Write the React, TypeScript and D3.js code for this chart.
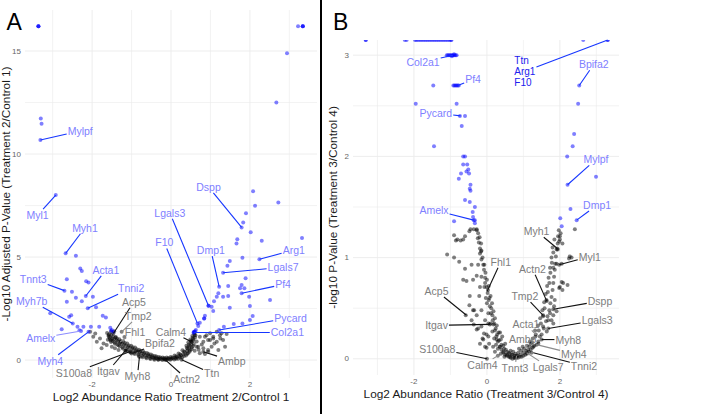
import * as d3 from "d3";

type Pt = [number, number];
type Label = { gene: string; x: number; y: number; sig: boolean };
type Place = { lx: number; ly: number; faint?: boolean; strong?: boolean };

const FONT = "'Liberation Sans', Arial, Helvetica, sans-serif";

const xTicks = [-2, 0, 2];
const xMinor = [-3, -1, 1, 3];
const yTicksA = [0, 5, 10, 15];
const yMinorA = [2.5, 7.5, 12.5];
const yTicksB = [0, 1, 2, 3];
const yMinorB = [0.5, 1.5, 2.5];

// ---------- panel A : Treatment 2 / Control 1 ----------
const sigA: Pt[] = [
  [-3.36, 16.2], [-3.36, 16.2], [-3.36, 16.2], [3.34, 16.2], [3.34, 16.2], [3.34, 16.2], [3.22, 16.2],
  [2.94, 14.89], [2.67, 12.5], [-3.3, 11.73], [-3.28, 11.47], [-3.31, 10.68], [-2.92, 8.01],
  [2.08, 8.19], [2.72, 7.65], [2.13, 7.49], [1.9, 7.12], [1.83, 6.68], [1.79, 6.44], [2.02, 6.2],
  [1.68, 5.86], [1.66, 5.66], [2.3, 5.79], [3.32, 5.92], [2.24, 4.89], [1.81, 4.97], [1.49, 4.81],
  [1.43, 4.58], [1.32, 4.24], [1.89, 3.97], [1.22, 3.56], [1.45, 3.59], [1.79, 3.64], [1.75, 3.48],
  [1.86, 3.48], [1.79, 3.24], [1.98, 3.07], [2.51, 2.91], [1.2, 3.24], [1.16, 3.07], [1.45, 3.11],
  [1.32, 3.07], [1.09, 2.86], [0.95, 2.64], [0.95, 2.64], [1.03, 2.59], [1.07, 2.38], [1.49, 2.54],
  [2.0, 2.62], [2.07, 2.14], [2.0, 1.94], [1.81, 1.78], [1.59, 1.75], [1.34, 1.62], [1.22, 1.46],
  [0.86, 2.15], [0.84, 2.02], [0.84, 2.02], [0.73, 1.81], [0.67, 1.78], [0.69, 1.65], [0.63, 1.46],
  [0.59, 1.37], [0.57, 1.33], [0.61, 1.4], [0.58, 1.36],
  [-2.67, 5.18], [-2.41, 5.06], [-2.3, 4.45], [-2.26, 4.32], [-2.15, 3.83], [-2.09, 3.77],
  [-2.64, 3.92], [-2.7, 3.37], [-2.51, 3.32], [-2.16, 3.11], [-1.98, 3.07], [-2.41, 3.03],
  [-2.64, 2.83], [-2.26, 2.86], [-2.11, 2.51], [-1.9, 2.56], [-3.06, 2.27], [-2.53, 2.18],
  [-2.58, 2.1], [-1.73, 2.15], [-1.65, 2.07], [-2.49, 1.78], [-2.37, 1.62], [-2.22, 1.62],
  [-2.03, 1.62], [-1.82, 1.62], [-2.77, 1.49], [-2.28, 1.41], [-2.32, 1.45], [-2.09, 1.37],
  [-1.54, 1.57], [-1.5, 1.46], [-1.46, 1.37], [-1.52, 1.42],
];

const nsA: Pt[] = [
  [-2.05, 1.37], [-1.92, 1.29], [-1.97, 1.13], [-1.8, 1.05], [-1.88, 0.89], [-1.71, 0.81],
  [-1.63, 0.73], [-1.5, 0.65], [-1.76, 0.57], [-1.42, 0.57], [-1.33, 0.49], [-1.58, 1.21],
  [-1.46, 1.29], [-1.25, 1.37], [-1.29, 0.88], [-1.55, 1.02], [-1.4, 1.12], [-1.48, 0.92],
  [-1.36, 0.76], [-1.18, 1.12], [-1.15, 0.45], [-1.05, 0.4], [-1.0, 0.32], [-1.16, 0.45],
  [-0.8, 0.15], [-1.52, 1.38], [-1.44, 1.4],
  [-1.62, 1.31], [-1.58, 1.14], [-1.6, 0.99], [-1.51, 1.22], [-1.49, 1.04], [-1.52, 0.88],
  [-1.41, 1.1], [-1.38, 0.96], [-1.42, 0.79], [-1.31, 1.01], [-1.28, 0.84], [-1.3, 0.67],
  [-1.21, 0.9], [-1.19, 0.74], [-1.22, 0.56], [-1.11, 0.81], [-1.09, 0.63], [-1.12, 0.46],
  [-1.01, 0.7], [-0.98, 0.55], [-1.02, 0.37], [-0.91, 0.61], [-0.89, 0.45], [-0.92, 0.29],
  [-0.81, 0.5], [-0.79, 0.37], [-0.82, 0.21], [-0.71, 0.43], [-0.69, 0.3], [-0.72, 0.14],
  [-0.61, 0.34], [-0.58, 0.22], [-0.62, 0.09], [-0.51, 0.27], [-0.49, 0.15], [-0.52, 0.05],
  [-0.41, 0.2], [-0.39, 0.1], [-0.42, 0.02], [-0.31, 0.15], [-0.29, 0.07], [-0.32, 0.01],
  [-0.21, 0.12], [-0.19, 0.05], [-0.22, 0.0], [-0.11, 0.12], [-0.09, 0.05], [-0.12, 0.0],
  [-0.01, 0.15], [0.01, 0.07], [-0.02, 0.01], [0.09, 0.22], [0.11, 0.11], [0.08, 0.03],
  [0.19, 0.32], [0.21, 0.18], [0.18, 0.06], [0.29, 0.48], [0.31, 0.28], [0.28, 0.12],
  [0.39, 0.7], [0.41, 0.45], [0.38, 0.22], [0.44, 0.86], [0.46, 0.6], [0.43, 0.33],
  [0.49, 1.0], [0.51, 0.76], [0.48, 0.46], [0.54, 1.17], [0.56, 0.95], [0.53, 0.61],
  [0.59, 1.29], [0.61, 1.1], [0.58, 0.78],
  [-1.55, 1.1], [-1.45, 1.0], [-1.35, 0.9], [-1.25, 0.78], [-1.15, 0.68], [-1.05, 0.58],
  [-0.95, 0.48], [-0.85, 0.4], [-0.75, 0.32], [-0.65, 0.24], [-0.55, 0.18], [-0.45, 0.12],
  [-0.35, 0.08], [-0.25, 0.05], [-0.15, 0.04], [-0.05, 0.05], [0.05, 0.09], [0.15, 0.15],
  [0.25, 0.24], [0.35, 0.38], [0.42, 0.55], [0.47, 0.7], [0.52, 0.88], [0.57, 1.02], [0.62, 1.2],
  [-1.57, 1.25], [-1.47, 1.15], [-1.37, 1.05], [-1.27, 0.93], [-1.17, 0.83], [-1.07, 0.71],
  [-0.97, 0.62], [-0.87, 0.52], [-0.77, 0.44], [-0.67, 0.36], [-0.57, 0.29], [-0.47, 0.22],
  [-0.37, 0.17], [-0.27, 0.13], [-0.17, 0.1], [-0.07, 0.1], [0.03, 0.13], [0.13, 0.19],
  [0.23, 0.28], [0.33, 0.42], [0.4, 0.6], [0.45, 0.75], [0.5, 0.92], [0.55, 1.08], [0.6, 1.22],
  [-1.53, 0.95], [-1.43, 0.85], [-1.33, 0.72], [-1.23, 0.62], [-1.13, 0.52], [-1.03, 0.43],
  [-0.93, 0.35], [-0.83, 0.27], [-0.73, 0.2], [-0.63, 0.14], [-0.53, 0.09], [-0.43, 0.06],
  [-0.33, 0.03], [0.13, 0.07], [0.23, 0.12], [0.33, 0.2], [0.41, 0.3], [0.47, 0.4], [0.52, 0.52],
  [0.56, 0.68],
  [0.73, 1.13], [0.9, 1.21], [1.07, 1.13], [1.24, 1.21], [1.41, 1.26], [0.82, 0.89], [0.99, 0.97],
  [1.16, 0.89], [1.32, 0.97], [0.65, 0.65], [0.82, 0.57], [1.03, 0.65], [1.2, 0.49], [1.37, 0.65],
  [0.73, 0.33], [0.94, 0.4], [0.86, 1.13], [0.99, 1.3], [1.16, 1.37], [1.28, 1.3], [0.94, 0.97],
  [1.07, 1.05], [0.69, 0.65], [0.94, 0.49], [0.86, 0.29], [0.52, 0.89], [0.27, 0.02], [-0.15, 0.02],
  [0.82, 0.4], [0.6, 0.45], [0.65, 0.9], [0.7, 0.5], [1.1, 0.8], [1.25, 1.05], [0.78, 0.75],
];

const labelsA: Label[] = [
  { gene: "Mylpf", x: -3.31, y: 10.68, sig: true },
  { gene: "Myl1", x: -2.92, y: 8.01, sig: true },
  { gene: "Myh1", x: -2.67, y: 5.18, sig: true },
  { gene: "Acta1", x: -2.16, y: 3.11, sig: true },
  { gene: "Tnnt3", x: -2.7, y: 3.37, sig: true },
  { gene: "Tnni2", x: -2.11, y: 2.51, sig: true },
  { gene: "Myh7b", x: -2.49, y: 1.78, sig: true },
  { gene: "Amelx", x: -2.28, y: 1.41, sig: true },
  { gene: "Myh4", x: -2.09, y: 1.37, sig: true },
  { gene: "Dspp", x: 1.79, y: 6.44, sig: true },
  { gene: "Lgals3", x: 0.95, y: 2.64, sig: true },
  { gene: "F10", x: 0.67, y: 1.78, sig: true },
  { gene: "Dmp1", x: 1.22, y: 3.56, sig: true },
  { gene: "Arg1", x: 2.24, y: 4.89, sig: true },
  { gene: "Lgals7", x: 1.32, y: 4.24, sig: true },
  { gene: "Pf4", x: 1.79, y: 3.24, sig: true },
  { gene: "Pycard", x: 1.22, y: 1.46, sig: true },
  { gene: "Col2a1", x: 0.58, y: 1.34, sig: true },
  { gene: "Acp5", x: -1.46, y: 1.29, sig: false },
  { gene: "Tmp2", x: -1.25, y: 1.37, sig: false },
  { gene: "Fhl1", x: -1.29, y: 0.88, sig: false },
  { gene: "Calm4", x: 0.52, y: 0.89, sig: false },
  { gene: "Bpifa2", x: -1.0, y: 0.32, sig: false },
  { gene: "S100a8", x: -1.05, y: 0.4, sig: false },
  { gene: "Itgav", x: -1.16, y: 0.45, sig: false },
  { gene: "Myh8", x: -0.8, y: 0.15, sig: false },
  { gene: "Actn2", x: -0.15, y: 0.02, sig: false },
  { gene: "Ttn", x: 0.27, y: 0.02, sig: false },
  { gene: "Ambp", x: 0.82, y: 0.4, sig: false },
];

// label placement (data units of panel A)
const placeA: Record<string, Place> = {
  Mylpf: { lx: -2.3, ly: 11.12 }, Myl1: { lx: -3.38, ly: 7.04 }, Myh1: { lx: -2.18, ly: 6.42 },
  Acta1: { lx: -1.65, ly: 4.38 }, Tnnt3: { lx: -3.49, ly: 3.92 }, Tnni2: { lx: -1.01, ly: 3.48 },
  Myh7b: { lx: -3.53, ly: 2.86 }, Amelx: { lx: -3.3, ly: 1.08, faint: true }, Myh4: { lx: -3.06, ly: -0.03 },
  Dspp: { lx: 0.95, ly: 8.41 }, Lgals3: { lx: -0.03, ly: 7.15 }, F10: { lx: -0.17, ly: 5.71 },
  Dmp1: { lx: 1.01, ly: 5.34 }, Arg1: { lx: 3.11, ly: 5.34 }, Lgals7: { lx: 2.84, ly: 4.5 },
  Pf4: { lx: 2.84, ly: 3.67 }, Pycard: { lx: 3.03, ly: 2.05 }, Col2a1: { lx: 2.95, ly: 1.34 },
  Acp5: { lx: -0.94, ly: 2.83 }, Tmp2: { lx: -0.83, ly: 2.15, faint: true }, Fhl1: { lx: -0.91, ly: 1.37, faint: true },
  Calm4: { lx: 0.0, ly: 1.37 }, Bpifa2: { lx: -0.28, ly: 0.81 }, S100a8: { lx: -2.46, ly: -0.62 },
  Itgav: { lx: -1.59, ly: -0.53 }, Myh8: { lx: -0.85, ly: -0.78 }, Actn2: { lx: 0.4, ly: -0.92 },
  Ttn: { lx: 1.03, ly: -0.65 }, Ambp: { lx: 1.54, ly: -0.03 },
};

// ---------- panel B : Treatment 3 / Control 4 ----------
const sigB: Pt[] = [
  [-3.32, 3.15], [-3.32, 3.15], [-2.25, 3.15], [-2.2, 3.15], [-1.97, 3.15], [-1.93, 3.15], [-1.88, 3.15],
  [-1.83, 3.15], [-1.78, 3.15], [-1.73, 3.15], [-1.68, 3.15], [-1.63, 3.15], [-1.58, 3.15], [-1.53, 3.15],
  [-1.48, 3.15], [-1.43, 3.15], [-1.38, 3.15], [-1.33, 3.15], [-1.28, 3.15], [-1.23, 3.15], [-1.18, 3.15],
  [-1.13, 3.15], [-1.08, 3.15], [-1.03, 3.15], [-0.99, 3.15], [-0.97, 3.15], [2.64, 3.15], [3.31, 3.15], [3.31, 3.15],
  [-1.1, 3.0], [-1.07, 3.0], [-1.04, 3.0], [-1.01, 3.0], [-0.98, 3.0], [-0.95, 3.0], [-0.92, 3.0],
  [-0.89, 3.0], [-0.86, 3.0], [-0.83, 3.0], [-0.9, 3.01], [-0.96, 2.99],
  [-0.92, 2.7], [-0.89, 2.7], [-0.86, 2.7], [-0.83, 2.7], [-0.8, 2.7], [-0.77, 2.7], [-1.47, 2.7],
  [-1.95, 2.52], [-0.83, 2.52], [-0.74, 2.4], [-0.6, 2.4], [-0.69, 2.3], [-1.45, 2.1],
  [-0.65, 2.0], [-0.6, 2.0], [-0.65, 1.92], [-0.54, 1.92], [-0.51, 1.87], [-0.56, 1.85], [-0.49, 1.83],
  [-0.71, 1.83], [-0.77, 1.78], [-0.45, 1.72], [-0.6, 1.57], [-0.47, 1.55], [-0.33, 1.5], [-0.39, 1.45],
  [-0.9, 1.36], [-0.33, 1.37], [-0.38, 1.4], [-0.33, 1.34], [-0.36, 1.37], [-0.47, 1.68], [-0.45, 1.66],
  [2.53, 2.7], [2.5, 2.52], [2.39, 2.22], [2.35, 2.1], [2.2, 2.0], [2.99, 1.8], [2.21, 1.72],
  [2.29, 1.48], [2.01, 1.39], [2.46, 1.37], [2.05, 1.31],
];

const nsB: Pt[] = [
  [-0.9, 1.22], [-0.85, 1.17], [-0.65, 1.18], [-0.45, 1.28], [-0.36, 1.28], [-0.28, 1.28], [-0.24, 1.24],
  [-0.16, 1.14], [-0.15, 1.07], [-0.19, 1.04], [-1.09, 1.03], [-0.9, 1.0], [-0.76, 0.96], [-0.6, 0.89],
  [-0.42, 0.93], [-0.24, 0.93], [-0.07, 0.93], [-0.65, 0.78], [-0.56, 0.77], [-0.38, 0.78], [-0.28, 0.82],
  [-0.15, 0.81], [-0.05, 0.75], [-0.19, 0.71], [-0.07, 0.71], [-0.21, 0.62], [-0.47, 0.62], [-0.03, 0.6],
  [-0.38, 0.48], [-0.28, 0.43], [-0.15, 0.48], [-0.05, 0.38], [-0.36, 0.34], [-0.15, 0.32], [0.04, 0.35],
  [-0.28, 0.29], [-0.08, 0.25], [0.04, 0.22], [-0.12, 0.2], [-0.19, 0.15], [-0.05, 0.12],
  [-0.48, 1.26], [-0.6, 1.21], [-0.81, 1.18], [-0.72, 1.17], [-0.48, 0.53], [-0.35, 0.48], [-0.58, 0.43],
  [-0.42, 0.38], [-0.24, 0.3], [-0.01, 0.24], [-0.1, 0.19], [0.06, 0.15], [0.17, 0.12], [-0.01, 0.11],
  [0.22, 0.07], [0.0, 0.0], [0.08, 0.34],
  [-0.28, 1.27], [-0.25, 1.19], [-0.22, 1.15], [-0.19, 1.09], [-0.16, 1.06], [-0.15, 0.98], [-0.1, 0.93],
  [-0.08, 0.88], [-0.05, 0.8], [-0.01, 0.71], [0.02, 0.65], [0.05, 0.58], [0.08, 0.52], [0.11, 0.45],
  [0.16, 0.38], [0.18, 0.34], [0.22, 0.28], [0.26, 0.22], [0.3, 0.17], [0.35, 0.12], [0.4, 0.09],
  [0.45, 0.06], [0.5, 0.04], [0.55, 0.03], [0.6, 0.02], [0.65, 0.01], [0.7, 0.0], [0.75, 0.01],
  [0.8, 0.01], [0.85, 0.01], [0.9, 0.02], [0.95, 0.02], [1.0, 0.03], [1.05, 0.04], [1.1, 0.05],
  [1.15, 0.07], [1.2, 0.09], [1.25, 0.11], [1.3, 0.13],
  [0.05, 0.72], [0.1, 0.62], [0.14, 0.55], [0.18, 0.47], [0.22, 0.4], [0.27, 0.33], [0.32, 0.26],
  [0.38, 0.19], [0.45, 0.13], [0.52, 0.09], [0.6, 0.06], [0.68, 0.04], [0.76, 0.03], [0.84, 0.03],
  [0.92, 0.04], [1.0, 0.06], [1.08, 0.08], [1.16, 0.12], [1.24, 0.16],
  [0.0, 0.55], [0.04, 0.45], [0.1, 0.35], [0.15, 0.27], [0.2, 0.2], [0.25, 0.14], [0.3, 0.1],
  [0.38, 0.05], [0.48, 0.02], [0.3, 0.03], [0.81, 0.03], [1.09, 0.06],
  [0.27, 0.19], [0.36, 0.12], [0.45, 0.07], [0.54, 0.04], [0.63, 0.02], [0.77, 0.01], [1.22, 0.06],
  [-0.2, 1.2], [-0.12, 1.0], [-0.04, 0.85], [0.0, 0.78], [0.03, 0.68], [0.07, 0.6], [0.12, 0.5],
  [0.15, 0.43], [0.2, 0.35], [0.24, 0.3], [0.28, 0.24], [0.33, 0.18], [0.4, 0.14], [0.47, 0.1],
  [0.55, 0.07], [0.62, 0.05], [0.7, 0.04], [0.78, 0.05], [0.86, 0.06], [0.94, 0.08], [1.02, 0.1],
  [1.1, 0.13], [1.18, 0.17], [1.26, 0.2], [1.32, 0.28], [1.4, 0.33], [1.46, 0.4], [1.52, 0.48],
  [1.57, 0.56], [1.61, 0.64], [1.65, 0.72], [1.69, 0.8], [1.73, 0.9], [1.77, 1.0], [1.8, 1.1],
  [1.85, 1.18], [0.65, 0.08], [0.72, 0.07], [0.88, 0.1], [0.98, 0.12], [0.5, 0.15], [0.42, 0.22],
  [0.36, 0.26],
  [1.27, 0.12], [1.41, 0.17], [1.5, 0.24], [1.56, 0.3], [1.62, 0.37], [1.66, 0.42], [1.71, 0.48],
  [1.74, 0.55], [1.77, 0.61], [1.8, 0.68], [1.82, 0.75], [1.84, 0.81], [1.86, 0.88], [1.87, 0.94],
  [1.89, 1.01], [1.91, 1.08], [1.94, 1.14], [1.95, 1.21], [1.97, 1.27],
  [1.2, 0.15], [1.33, 0.22], [1.42, 0.28], [1.48, 0.35], [1.54, 0.42], [1.58, 0.5], [1.63, 0.58],
  [1.67, 0.66], [1.71, 0.75], [1.74, 0.85], [1.78, 0.95], [1.82, 1.05],
  [1.36, 0.14], [1.5, 0.19], [1.68, 0.3], [1.82, 0.49], [1.98, 0.93], [1.93, 1.09], [1.64, 0.57],
  [1.54, 0.43], [1.34, 0.24], [1.13, 0.09],
  [2.02, 1.24], [2.0, 1.18], [1.98, 1.16], [1.94, 1.08], [2.27, 1.01], [2.32, 1.0], [2.25, 0.99],
  [1.91, 0.94], [1.82, 0.9], [2.05, 0.76], [1.98, 0.7], [2.07, 0.68], [2.21, 0.73], [1.86, 0.58],
  [1.84, 0.52], [1.91, 0.47], [1.82, 0.43], [1.77, 0.38], [1.73, 0.45], [1.68, 0.38], [1.82, 0.35],
  [1.54, 0.32], [1.64, 0.27], [1.45, 0.22], [1.41, 0.15], [2.0, 0.71], [2.09, 0.75], [2.05, 0.94],
  [2.07, 1.14], [2.0, 1.21], [2.41, 1.28],
];

const labelsB: Label[] = [
  { gene: "Col2a1", x: -0.93, y: 3.0, sig: true },
  { gene: "Pf4", x: -0.8, y: 2.7, sig: true },
  { gene: "Pycard", x: -0.72, y: 2.4, sig: true },
  { gene: "Ttn\nArg1\nF10", x: 3.31, y: 3.15, sig: true },
  { gene: "Bpifa2", x: 2.53, y: 2.7, sig: true },
  { gene: "Mylpf", x: 2.21, y: 1.72, sig: true },
  { gene: "Dmp1", x: 2.46, y: 1.37, sig: true },
  { gene: "Amelx", x: -0.36, y: 1.37, sig: true },
  { gene: "Fhl1", x: 0.01, y: 0.67, sig: false },
  { gene: "Acp5", x: -0.56, y: 0.43, sig: false },
  { gene: "Itgav", x: 0.08, y: 0.34, sig: false },
  { gene: "S100a8", x: 0.0, y: 0.0, sig: false },
  { gene: "Calm4", x: 0.3, y: 0.03, sig: false },
  { gene: "Tnnt3", x: 0.81, y: 0.03, sig: false },
  { gene: "Lgals7", x: 1.09, y: 0.06, sig: false },
  { gene: "Tnni2", x: 1.27, y: 0.06, sig: false },
  { gene: "Myh4", x: 1.36, y: 0.14, sig: false },
  { gene: "Myh8", x: 1.5, y: 0.19, sig: false },
  { gene: "Lgals3", x: 1.68, y: 0.3, sig: false },
  { gene: "Dspp", x: 1.82, y: 0.49, sig: false },
  { gene: "Myl1", x: 1.98, y: 0.93, sig: false },
  { gene: "Myh1", x: 1.93, y: 1.09, sig: false },
  { gene: "Actn2", x: 1.64, y: 0.57, sig: false },
  { gene: "Tmp2", x: 1.54, y: 0.43, sig: false },
  { gene: "Acta1", x: 1.34, y: 0.24, sig: false },
  { gene: "Ambp", x: 1.13, y: 0.09, sig: false },
];

const placeB: Record<string, Place> = {
  Col2a1: { lx: -1.75, ly: 2.93 }, Pf4: { lx: -0.38, ly: 2.76 }, Pycard: { lx: -1.4, ly: 2.43 },
  "Ttn\nArg1\nF10": { lx: 1.04, ly: 2.84, strong: true }, Bpifa2: { lx: 2.93, ly: 2.91 },
  Mylpf: { lx: 2.99, ly: 1.97 }, Dmp1: { lx: 3.02, ly: 1.52 }, Amelx: { lx: -1.45, ly: 1.47 },
  Fhl1: { lx: 0.38, ly: 0.96 }, Acp5: { lx: -1.38, ly: 0.67 }, Itgav: { lx: -1.38, ly: 0.33 },
  S100a8: { lx: -1.36, ly: 0.1 }, Calm4: { lx: -0.12, ly: -0.06, faint: true },
  Tnnt3: { lx: 0.77, ly: -0.09, faint: true }, Lgals7: { lx: 1.68, ly: -0.08, faint: true },
  Tnni2: { lx: 2.66, ly: -0.07 }, Myh4: { lx: 2.38, ly: 0.05, faint: true }, Myh8: { lx: 2.23, ly: 0.19 },
  Lgals3: { lx: 3.02, ly: 0.38 }, Dspp: { lx: 3.1, ly: 0.57 }, Myl1: { lx: 2.82, ly: 1.01 },
  Myh1: { lx: 1.36, ly: 1.26 }, Actn2: { lx: 1.25, ly: 0.89 }, Tmp2: { lx: 1.04, ly: 0.62 },
  Acta1: { lx: 1.07, ly: 0.34, faint: true }, Ambp: { lx: 0.98, ly: 0.2, faint: true },
};

// ---------- helpers ----------
const ctx = typeof document !== "undefined" ? document.createElement("canvas").getContext("2d") : null;
function textWidth(s: string, size: number) {
  if (!ctx) return s.length * size * 0.55;
  ctx.font = `${size}px ${FONT}`;
  return ctx.measureText(s).width;
}

// where the segment from the point meets the label box (like ggrepel)
function boxEdge(px: number, py: number, cx: number, cy: number, w: number, h: number) {
  const dx = px - cx, dy = py - cy;
  if (Math.abs(dx) <= w / 2 && Math.abs(dy) <= h / 2) return null;
  const tx = dx === 0 ? Infinity : (w / 2) / Math.abs(dx);
  const ty = dy === 0 ? Infinity : (h / 2) / Math.abs(dy);
  const t = Math.min(tx, ty);
  return [cx + dx * t, cy + dy * t];
}

type Box = { left: number; right: number; top: number; bottom: number };

function Volcano(props: {
  id: string; tag: string; tagX: number; box: Box; xDom: [number, number]; yDom: [number, number];
  yTicks: number[]; yMinor: number[]; sig: Pt[]; ns: Pt[]; labels: Label[]; place: Record<string, Place>;
  xTitle: string; xTitleY: number; yTitle: string; yTitleX: number;
}) {
  const { id, box, sig, ns, labels, place } = props;
  const x = d3.scaleLinear().domain(props.xDom).range([box.left, box.right]);
  const y = d3.scaleLinear().domain(props.yDom).range([box.bottom, box.top]);
  const LS = 10.5;

  return (
    <g>
      <defs>
        <clipPath id={`clip-${id}`}>
          <rect x={box.left} y={box.top} width={box.right - box.left} height={box.bottom - box.top} />
        </clipPath>
      </defs>
      {xMinor.concat(xTicks).map((t) => (
        <line key={`vx${t}`} x1={x(t)} x2={x(t)} y1={box.top} y2={box.bottom}
          stroke="#ebebeb" strokeWidth={xTicks.includes(t) ? 0.9 : 0.6} />
      ))}
      {props.yMinor.concat(props.yTicks).map((t) => (
        <line key={`hy${t}`} x1={box.left} x2={box.right} y1={y(t)} y2={y(t)}
          stroke="#ebebeb" strokeWidth={props.yTicks.includes(t) ? 0.9 : 0.6} />
      ))}
      <g clipPath={`url(#clip-${id})`}>
        {ns.map((d, i) => (
          <circle key={`n${i}`} cx={x(d[0])} cy={y(d[1])} r={2} fill="#000" fillOpacity={0.5} />
        ))}
        {sig.map((d, i) => (
          <circle key={`s${i}`} cx={x(d[0])} cy={y(d[1])} r={2} fill="#0000ff" fillOpacity={0.5} />
        ))}
      </g>
      {labels.map((l) => {
        const p = place[l.gene];
        const lines = l.gene.split("\n");
        const fs = lines.length > 1 ? 10 : LS;
        const lh = 11;
        const w = Math.max(...lines.map((s) => textWidth(s, fs))) + 2;
        const h = lines.length * lh + 1;
        const cx = x(p.lx), cy = y(p.ly);
        const px = x(l.x), py = y(l.y);
        const e = boxEdge(px, py, cx, cy, w, h);
        const segColor = l.sig ? (p.faint ? "#8c8cff" : "#1535ff") : (p.faint ? "#8c8c8c" : "#111");
        const txtColor = l.sig ? (p.strong ? "#2020ee" : "#8080ff") : "#7d7d7d";
        return (
          <g key={l.gene}>
            {e && <line x1={px} y1={py} x2={e[0]} y2={e[1]} stroke={segColor} strokeWidth={1.1} />}
            {lines.length === 1 ? (
              <text x={cx} y={cy} textAnchor="middle" dominantBaseline="central" fontSize={fs} fill={txtColor}>
                {l.gene}
              </text>
            ) : (
              lines.map((s, i) => (
                <text key={s} x={cx - w / 2 + 1} y={cy + (i - (lines.length - 1) / 2) * lh}
                  dominantBaseline="central" fontSize={fs} fill={txtColor}>{s}</text>
              ))
            )}
          </g>
        );
      })}
      {props.yTicks.map((t) => (
        <text key={`yt${t}`} x={box.left - 4} y={y(t)} textAnchor="end" dominantBaseline="central"
          fontSize={8} fill="#666">{t}</text>
      ))}
      {xTicks.map((t) => (
        <text key={`xt${t}`} x={x(t)} y={box.bottom + 6.5} textAnchor="middle" dominantBaseline="central"
          fontSize={8} fill="#666">{t}</text>
      ))}
      <text x={(box.left + box.right) / 2} y={props.xTitleY} textAnchor="middle" fontSize={11.8} fill="#1a1a1a">
        {props.xTitle}
      </text>
      <text transform={`translate(${props.yTitleX},${(box.top + box.bottom) / 2}) rotate(-90)`}
        textAnchor="middle" fontSize={11.8} fill="#1a1a1a">
        {props.yTitle}
      </text>
      <text x={props.tagX} y={30} fontSize={23} fill="#000">{props.tag}</text>
    </g>
  );
}

export default function App() {
  return (
    <svg width={702} height={414} viewBox="0 0 702 414"
      style={{ position: "fixed", left: 0, top: 0, background: "#fff", fontFamily: FONT }}>
      <rect x={0} y={0} width={702} height={414} fill="#fff" />
      <Volcano id="a" tag="A" tagX={6.5} box={{ left: 25, right: 317, top: 10, bottom: 378 }}
        xDom={[-3.7, 3.7]} yDom={[-0.87, 16.99]} yTicks={yTicksA} yMinor={yMinorA}
        sig={sigA} ns={nsA} labels={labelsA} place={placeA}
        xTitle="Log2 Abundance Ratio Treatment 2/Control 1" xTitleY={401}
        yTitle="-Log10 Adjusted P-Value (Treatment 2/Control 1)" yTitleX={9.5} />
      <line x1={321} x2={321} y1={0} y2={414} stroke="#000" strokeWidth={2} />
      <Volcano id="b" tag="B" tagX={333} box={{ left: 353, right: 619, top: 40, bottom: 375 }}
        xDom={[-3.67, 3.62]} yDom={[-0.16, 3.15]} yTicks={yTicksB} yMinor={yMinorB}
        sig={sigB} ns={nsB} labels={labelsB} place={placeB}
        xTitle="Log2 Abundance Ratio (Treatment 3/Control 4)" xTitleY={398}
        yTitle="-log10 P-Value (Treatment 3/Control 4)" yTitleX={336.5} />
    </svg>
  );
}
